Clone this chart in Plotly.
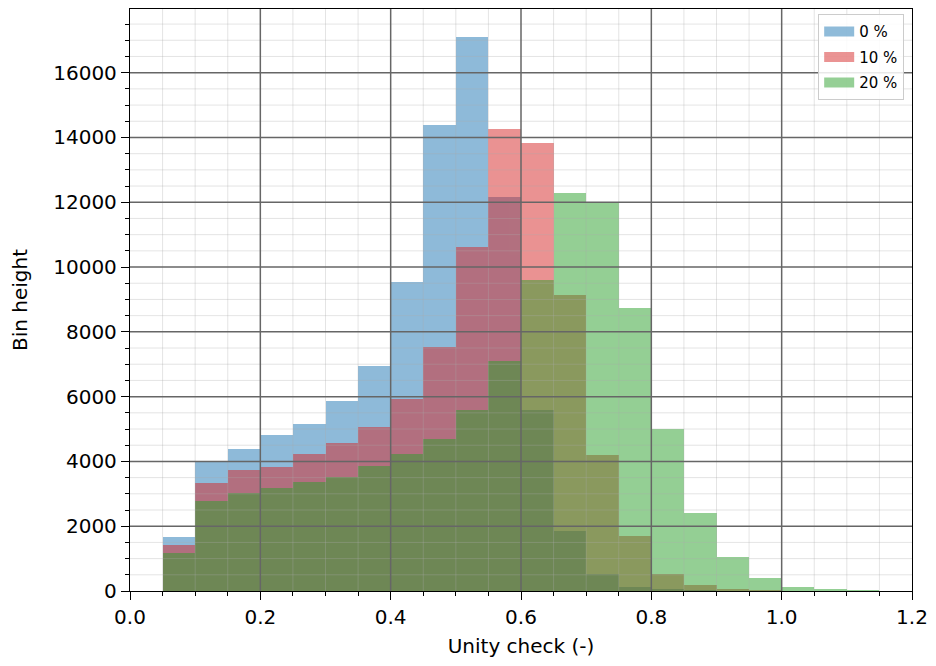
import numpy as np
import plotly.graph_objects as go

# Histogram bins: width 0.05, left edges 0.05 ... 1.10
bin_left = [0.05, 0.10, 0.15, 0.20, 0.25, 0.30, 0.35, 0.40, 0.45, 0.50, 0.55,
            0.60, 0.65, 0.70, 0.75, 0.80, 0.85, 0.90, 0.95, 1.00, 1.05, 1.10]
bin_width = 0.05

# Bin heights per scenario
counts_0 = [1680, 3990, 4370, 4830, 5170, 5860, 6940, 9540, 14400, 17110, 12150,
            5600, 1860, 510, 130, 35, 8, 0, 0, 0, 0, 0]
counts_10 = [1410, 3340, 3730, 3840, 4240, 4570, 5060, 5940, 7530, 10630, 14260,
             13840, 9150, 4210, 1710, 540, 180, 45, 8, 0, 0, 0]
counts_20 = [1160, 2770, 3030, 3190, 3370, 3520, 3860, 4220, 4680, 5600, 7100,
             9600, 12280, 11970, 8730, 4990, 2410, 1040, 390, 135, 50, 10]

series_names = ["0 %", "10 %", "20 %"]
series_colors = ["#1f77b4", "#d62728", "#2ca02c"]

x_ticks = [0.0, 0.2, 0.4, 0.6, 0.8, 1.0, 1.2]
y_ticks = [0, 2000, 4000, 6000, 8000, 10000, 12000, 14000, 16000]
x_minor_step = 0.05
y_minor_step = 500

centers = np.array(bin_left) + bin_width / 2
y_top = max(max(counts_0), max(counts_10), max(counts_20)) * 1.05

fig = go.Figure()
for name, color, vals in zip(series_names, series_colors,
                             [counts_0, counts_10, counts_20]):
    fig.add_trace(go.Bar(
        x=centers, y=vals, width=bin_width,
        marker=dict(color=color, line=dict(width=0)),
        opacity=0.5, name=name, legendgroup=name, showlegend=False,
    ))
    # legend swatch: a wide thick line sample, like a patch
    fig.add_trace(go.Scatter(
        x=[None], y=[None], mode="lines", name=name, legendgroup=name,
        line=dict(color=color, width=10), opacity=0.5, showlegend=True,
    ))

# Grid drawn on top of the bars
shapes = []
minor_x = np.round(np.arange(x_ticks[0], x_ticks[-1] + 1e-9, x_minor_step), 3)
for xv in minor_x:
    if not np.any(np.isclose(xv, x_ticks)):
        shapes.append(dict(type="line", xref="x", yref="paper", x0=xv, x1=xv,
                           y0=0, y1=1, layer="above",
                           line=dict(color="rgba(170,170,170,0.32)", width=1)))
minor_y = np.arange(0, y_top, y_minor_step)
for yv in minor_y:
    if yv not in y_ticks:
        shapes.append(dict(type="line", xref="paper", yref="y", x0=0, x1=1,
                           y0=yv, y1=yv, layer="above",
                           line=dict(color="rgba(170,170,170,0.32)", width=1)))
for xv in x_ticks[1:-1]:
    shapes.append(dict(type="line", xref="x", yref="paper", x0=xv, x1=xv,
                       y0=0, y1=1, layer="above",
                       line=dict(color="#666666", width=1.5)))
for yv in y_ticks[1:]:
    shapes.append(dict(type="line", xref="paper", yref="y", x0=0, x1=1,
                       y0=yv, y1=yv, layer="above",
                       line=dict(color="#666666", width=1.5)))

font_family = "DejaVu Sans"

fig.update_layout(
    width=936, height=666,
    margin=dict(l=130, r=21, t=8, b=75),
    paper_bgcolor="white", plot_bgcolor="white",
    barmode="overlay", bargap=0,
    font=dict(family=font_family, size=20, color="black"),
    shapes=shapes,
    showlegend=True,
    legend=dict(
        x=0.99, y=0.991, xanchor="right", yanchor="top",
        tracegroupgap=3,
        bgcolor="rgba(255,255,255,0.85)", bordercolor="#cccccc", borderwidth=1,
        font=dict(family=font_family, size=15, color="black"),
    ),
    xaxis=dict(
        range=[x_ticks[0], x_ticks[-1]],
        tickvals=x_ticks, ticktext=[f"{v:.1f}" for v in x_ticks],
        ticks="outside", ticklen=8, tickwidth=1, tickcolor="black",
        showline=True, linecolor="black", linewidth=1.3, mirror=True,
        showgrid=False, zeroline=False,
        minor=dict(dtick=x_minor_step, ticks="outside", ticklen=4,
                   tickwidth=1, tickcolor="black", showgrid=False),
        title=dict(text="Unity check (-)", font=dict(size=20), standoff=10),
        tickfont=dict(size=20),
    ),
    yaxis=dict(
        range=[0, y_top],
        tickvals=y_ticks, ticktext=[str(v) for v in y_ticks],
        ticks="outside", ticklen=8, tickwidth=1, tickcolor="black",
        showline=True, linecolor="black", linewidth=1.3, mirror=True,
        showgrid=False, zeroline=False,
        minor=dict(dtick=y_minor_step, ticks="outside", ticklen=4,
                   tickwidth=1, tickcolor="black", showgrid=False),
        title=dict(text="Bin height", font=dict(size=20), standoff=20),
        tickfont=dict(size=20),
    ),
)

fig.write_html("out.html")
